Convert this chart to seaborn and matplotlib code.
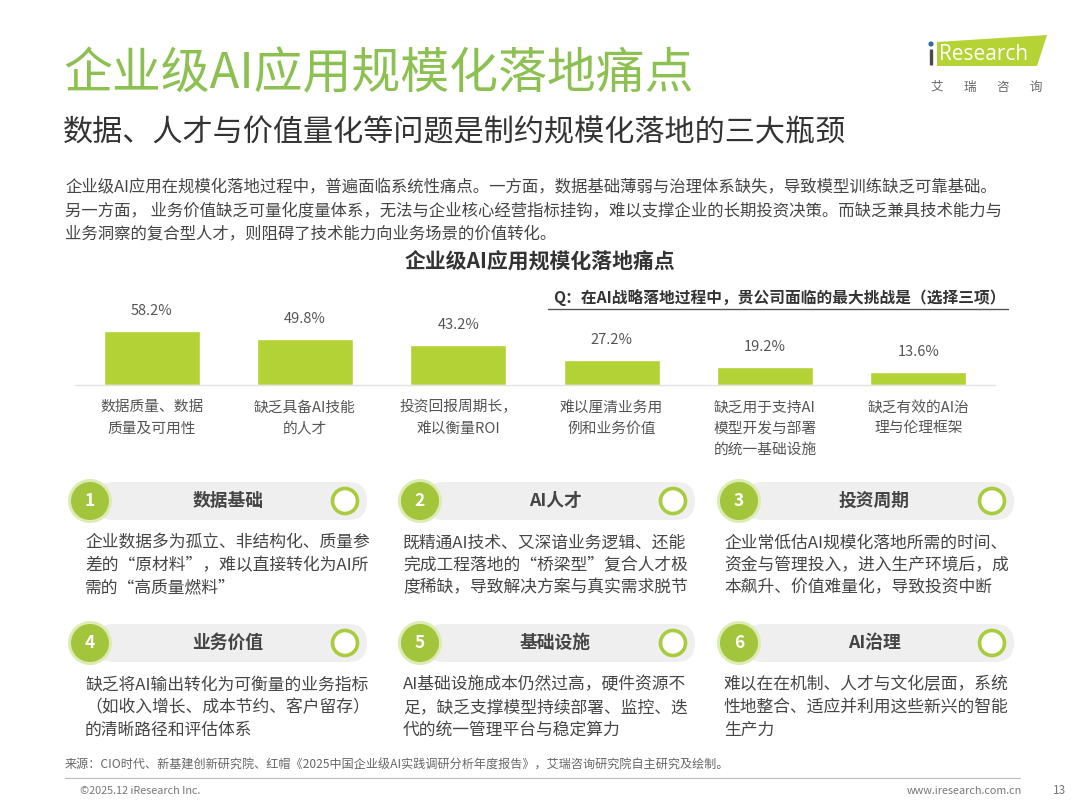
import matplotlib
matplotlib.use('Agg')
import matplotlib.pyplot as plt
from matplotlib.patches import FancyBboxPatch, Circle, Polygon
import numpy as np
import seaborn as sns

sns.set_style('white')
plt.rcParams['font.family'] = ['Noto Sans CJK SC', 'DejaVu Sans']

#%% data
page_title = '企业级AI应用规模化落地痛点'
page_subtitle = '数据、人才与价值量化等问题是制约规模化落地的三大瓶颈'
intro_lines = [
    '企业级AI应用在规模化落地过程中，普遍面临系统性痛点。一方面，数据基础薄弱与治理体系缺失，导致模型训练缺乏可靠基础。',
    '另一方面， 业务价值缺乏可量化度量体系，无法与企业核心经营指标挂钩，难以支撑企业的长期投资决策。而缺乏兼具技术能力与',
    '业务洞察的复合型人才，则阻碍了技术能力向业务场景的价值转化。',
]
chart_title = '企业级AI应用规模化落地痛点'
question = 'Q：在AI战略落地过程中，贵公司面临的最大挑战是（选择三项）'

challenges = ['数据质量、数据\n质量及可用性', '缺乏具备AI技能\n的人才', '投资回报周期长，\n难以衡量ROI',
              '难以厘清业务用\n例和业务价值', '缺乏用于支持AI\n模型开发与部署\n的统一基础设施', '缺乏有效的AI治\n理与伦理框架']
share = [58.2, 49.8, 43.2, 27.2, 19.2, 13.6]

card_numbers = ['1', '2', '3', '4', '5', '6']
card_titles = ['数据基础', 'AI人才', '投资周期', '业务价值', '基础设施', 'AI治理']
card_texts = [
    ['企业数据多为孤立、非结构化、质量参', '差的“原材料”，难以直接转化为AI所', '需的“高质量燃料”'],
    ['既精通AI技术、又深谙业务逻辑、还能', '完成工程落地的“桥梁型”复合人才极', '度稀缺，导致解决方案与真实需求脱节'],
    ['企业常低估AI规模化落地所需的时间、', '资金与管理投入，进入生产环境后，成', '本飙升、价值难量化，导致投资中断'],
    ['缺乏将AI输出转化为可衡量的业务指标', '（如收入增长、成本节约、客户留存）', '的清晰路径和评估体系'],
    ['AI基础设施成本仍然过高，硬件资源不', '足，缺乏支撑模型持续部署、监控、迭', '代的统一管理平台与稳定算力'],
    ['难以在在机制、人才与文化层面，系统', '性地整合、适应并利用这些新兴的智能', '生产力'],
]

source = '来源：CIO时代、新基建创新研究院、红帽《2025中国企业级AI实践调研分析年度报告》，艾瑞咨询研究院自主研究及绘制。'
copyright_txt = '©2025.12 iResearch Inc.'
website = 'www.iresearch.com.cn'
page_no = '13'

GREEN_TITLE = '#8CC152'
BAR_GREEN = '#B2D235'
DARK = '#333333'
TEXT = '#454545'

W, H = 1080, 810
fig = plt.figure(figsize=(W / 100, H / 100), dpi=100)
fig.patch.set_facecolor('white')

# overlay in pixel units, y from top
bg = fig.add_axes([0, 0, 1, 1])
bg.set_xlim(0, W)
bg.set_ylim(H, 0)
bg.axis('off')

#%% header
bg.text(63, 75, page_title, fontsize=35.2, color=GREEN_TITLE, va='center', ha='left', fontweight='light')
bg.text(63, 133, page_subtitle, fontsize=21.7, color=DARK, va='center', ha='left')
for i, line in enumerate(intro_lines):
    bg.text(65, 187 + i * 23.5, line, fontsize=11.8, color=TEXT, va='center', ha='left')

# logo
bg.add_patch(Polygon([[937, 42], [1047, 35], [1037, 66], [937, 66]], closed=True,
                     facecolor='#B5D334', edgecolor='none'))
bg.add_patch(Circle((931, 44), 2.6, facecolor='#2F6E9E', edgecolor='none'))
bg.plot([931, 931], [49, 65], color='#4A4A4A', lw=2.4, solid_capstyle='butt')
bg.text(939, 55, 'Research', fontsize=15, color='white', va='center', ha='left', family='Open Sans')
for k, ch in enumerate('艾瑞咨询'):
    bg.text(937 + k * 33, 87, ch, fontsize=9, color='#666666', va='center', ha='center')

#%% chart
bg.text(540, 262, chart_title, fontsize=15, fontweight='bold', color=DARK, va='center', ha='center')
bg.text(1006, 298, question, fontsize=11.3, fontweight='bold', color=DARK, va='center', ha='right')
bg.plot([548, 1008], [309, 309], color='#555555', lw=1)

base_y, top_y = 385, 300
x0, x1 = 75, 995
ax = fig.add_axes([x0 / W, 1 - base_y / H, (x1 - x0) / W, (base_y - top_y) / H])
sns.barplot(x=challenges, y=share, color=BAR_GREEN, width=0.625, saturation=1, ax=ax)
ax.set_ylim(0, 58.2 * (base_y - top_y) / 54)
ax.set_xlim(-0.5, len(share) - 0.5)
ax.bar_label(ax.containers[0], fmt='%.1f%%', padding=9.5, fontsize=10.5, color='#555555')
ax.set_yticks([])
ax.set_ylabel('')
ax.tick_params(axis='x', length=0, pad=11, labelsize=10.6, labelcolor='#555555')
for lab in ax.get_xticklabels():
    lab.set_linespacing(1.65)
    lab.set_verticalalignment('top')
for s in ['top', 'left', 'right']:
    ax.spines[s].set_visible(False)
ax.spines['bottom'].set_color('#E3E3E3')
ax.spines['bottom'].set_linewidth(1)
ax.patch.set_alpha(0)

#%% cards
num_x = [90, 420, 739]
text_x = [85, 403, 724]
head_x = [228, 555, 874]
ring_x = [345, 673, 992]
row_y = [501, 643]
for idx in range(6):
    r, c = divmod(idx, 3)
    cy = row_y[r]
    bg.add_patch(FancyBboxPatch((num_x[c] + 5, cy - 19), ring_x[c] - num_x[c] + 17, 38,
                                boxstyle='round,pad=0,rounding_size=19',
                                facecolor='#EFEFEF', edgecolor='none'))
    bg.add_patch(Circle((num_x[c], cy), 22, facecolor='#DDEBB5', edgecolor='none'))
    bg.add_patch(Circle((num_x[c], cy), 19, facecolor='#A3C53C', edgecolor='none'))
    bg.text(num_x[c], cy, card_numbers[idx], fontsize=12.5, fontweight='bold', color='white',
            va='center', ha='center')
    bg.add_patch(Circle((ring_x[c], cy), 12.5, facecolor='white', edgecolor='#A8CC3C', lw=2.6))
    bg.text(head_x[c], cy, card_titles[idx], fontsize=12.8, fontweight='bold', color=TEXT,
            va='center', ha='center')
    for j, line in enumerate(card_texts[idx]):
        bg.text(text_x[c], cy + 42 + j * 22.5, line, fontsize=12.1, color=TEXT, va='center', ha='left')

#%% footer
bg.text(65, 765, source, fontsize=8.7, color='#666666', va='center', ha='left')
bg.plot([65, 1020], [778, 778], color='#BBBBBB', lw=0.8)
bg.text(80, 791, copyright_txt, fontsize=7.8, color='#777777', va='center', ha='left')
bg.text(1022, 791, website, fontsize=7.8, color='#777777', va='center', ha='right')
bg.text(1060, 791, page_no, fontsize=8.5, color='#777777', va='center', ha='center')

fig.savefig('out.png', dpi=100, facecolor='white')
